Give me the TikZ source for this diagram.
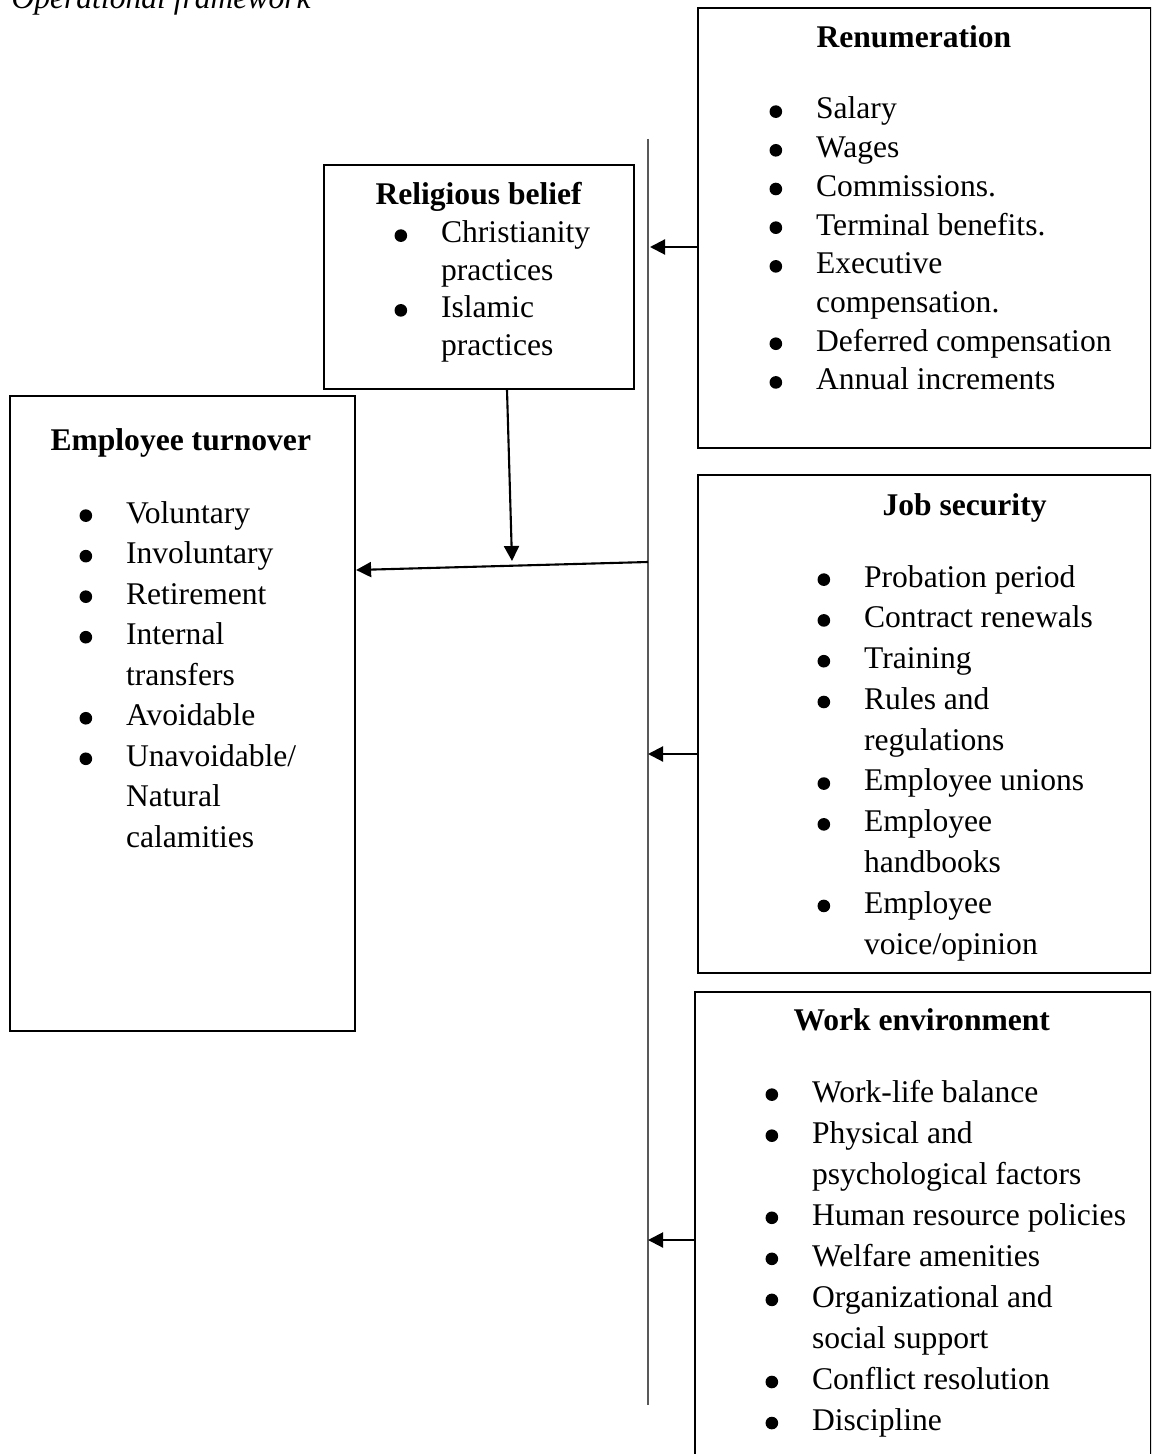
\documentclass[tikz,border=0pt]{standalone}
\usepackage{fontspec}
\setmainfont{Liberation Serif}
\usetikzlibrary{arrows.meta}
\newcommand\bdot{\tikz[baseline=0pt]\fill (2.4pt,2.8pt) circle[radius=2.4pt];}
\newcommand\blt{\makebox[17.7pt][l]{\bdot}}
\begin{document}
\begin{tikzpicture}[x=0.38pt,y=-0.38pt,
  box/.style={draw, line width=0.8pt, inner sep=0pt, anchor=north west},
  ttl/.style={anchor=base west, inner sep=0pt, font=\fontsize{12}{14}\selectfont\bfseries},
  lst/.style={anchor=base west, inner sep=0pt},
  arr/.style={line width=0.8pt, -{Triangle[length=5.7pt,width=5.7pt]}},
  spine/.style={draw=black!65, line width=0.6pt}]
\useasboundingbox (0,0) rectangle (1151,1454);
\clip (0,0) rectangle (1151,1454);

% caption
\node[anchor=base west, inner sep=0pt, font=\fontsize{12}{14}\selectfont\itshape] (cap) at (11,9) {Operational framework};

% boxes
\node[box, minimum width=172.1pt, minimum height=167.2pt] (ren) at (697,7) {};
\node[box, minimum width=117.8pt, minimum height=85.1pt] (rel) at (323,164) {};
\node[box, minimum width=131.1pt, minimum height=241.3pt] (emp) at (9,395) {};
\node[box, minimum width=172.1pt, minimum height=189.2pt] (job) at (697,474) {};
\node[box, minimum width=173.3pt, minimum height=190pt] (work) at (694,991) {};

% Renumeration
\node[ttl] (renT) at (816,48) {Renumeration};
\node[lst] (renL) at (769,119) {\fontsize{12}{14.7}\selectfont
\begin{tabular}[t]{@{}l@{}l@{}}
\blt & Salary\\
\blt & Wages\\
\blt & Commissions.\\
\blt & Terminal benefits.\\
\blt & Executive\\
 & compensation.\\
\blt & Deferred compensation\\
\blt & Annual increments
\end{tabular}};

% Religious belief
\node[ttl] (relT) at (375,205) {Religious belief};
\node[lst] (relL) at (394,243) {\fontsize{12}{14.2}\selectfont
\begin{tabular}[t]{@{}l@{}l@{}}
\blt & Christianity\\
 & practices\\
\blt & Islamic\\
 & practices
\end{tabular}};

% Employee turnover
\node[ttl] (empT) at (50,451) {Employee turnover};
\node[lst] (empL) at (79,523) {\fontsize{12}{15.4}\selectfont
\begin{tabular}[t]{@{}l@{}l@{}}
\blt & Voluntary\\
\blt & Involuntary\\
\blt & Retirement\\
\blt & Internal\\
 & transfers\\
\blt & Avoidable\\
\blt & Unavoidable/\\
 & Natural\\
 & calamities
\end{tabular}};

% Job security
\node[ttl] (jobT) at (882,515) {Job security};
\node[lst] (jobL) at (817,587) {\fontsize{12}{15.5}\selectfont
\begin{tabular}[t]{@{}l@{}l@{}}
\blt & Probation period\\
\blt & Contract renewals\\
\blt & Training\\
\blt & Rules and\\
 & regulations\\
\blt & Employee unions\\
\blt & Employee\\
 & handbooks\\
\blt & Employee\\
 & voice/opinion
\end{tabular}};

% Work environment
\node[ttl] (workT) at (793,1030) {Work environment};
\node[lst] (workL) at (765,1102) {\fontsize{12}{15.6}\selectfont
\begin{tabular}[t]{@{}l@{}l@{}}
\blt & Work-life balance\\
\blt & Physical and\\
 & psychological factors\\
\blt & Human resource policies\\
\blt & Welfare amenities\\
\blt & Organizational and\\
 & social support\\
\blt & Conflict resolution\\
\blt & Discipline
\end{tabular}};

% spine
\coordinate (vt) at (648,139);
\coordinate (vb) at (648,1405);
\draw[spine] (vt) -- (vb);

% arrows into spine
\coordinate (a1) at (650,247);
\draw[arr] (ren.west |- a1) -- (a1);
\coordinate (a2) at (648,754);
\draw[arr] (job.west |- a2) -- (a2);
\coordinate (a3) at (648,1240);
\draw[arr] (work.west |- a3) -- (a3);

% religious belief down
\coordinate (s1) at (507,388);
\coordinate (t1) at (512,561);
\draw[arr] (rel.south -| s1) -- (t1);

% spine to employee turnover
\coordinate (j1) at (648,562);
\coordinate (t2) at (355,570);
\draw[arr] (j1) -- (emp.east |- t2);
\end{tikzpicture}
\end{document}
